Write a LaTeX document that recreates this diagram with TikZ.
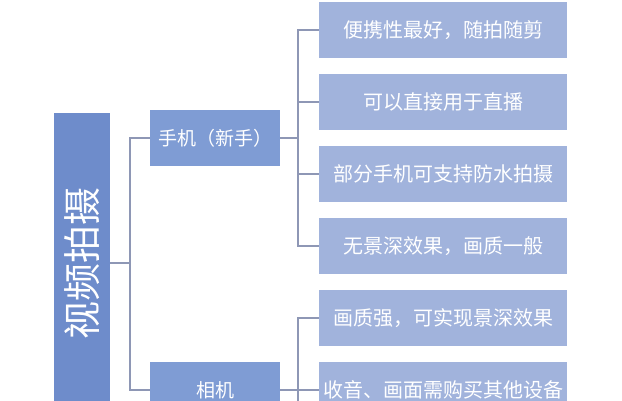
\documentclass[tikz,border=0pt]{standalone}
\usepackage{fontspec}
\setmainfont{Noto Sans CJK SC}
\definecolor{rootc}{HTML}{6E8CCB}
\definecolor{childc}{HTML}{7F9CD4}
\definecolor{leafc}{HTML}{A1B3DC}
\definecolor{linec}{HTML}{8E97B5}
\tikzset{
  rootbox/.style={fill=rootc, text=white, minimum width=300pt, minimum height=56pt, inner sep=0pt, font=\fontsize{38pt}{44pt}\selectfont},
  childbox/.style={fill=childc, text=white, minimum width=130pt, minimum height=56pt, inner sep=0pt, font=\fontsize{19pt}{23pt}\selectfont},
  leafbox/.style={fill=leafc, text=white, minimum width=248pt, minimum height=56pt, inner sep=0pt, font=\fontsize{20pt}{24pt}\selectfont},
  conn/.style={draw=linec, line width=1.5pt}
}
\begin{document}
\begin{tikzpicture}[x=1pt,y=-1pt]
\path[use as bounding box, clip] (0,0) rectangle (622,400);
\fill[white] (0,0) rectangle (622,400);
\node[rootbox, rotate=90] (root) at (82,263) {视频拍摄};
\node[childbox] (c1) at (215,138) {手机（新手）};
\node[childbox] (c2) at (215,390) {相机};
\node[leafbox] (l1) at (443,30) {便携性最好，随拍随剪};
\node[leafbox] (l2) at (443,102) {可以直接用于直播};
\node[leafbox] (l3) at (443,174) {部分手机可支持防水拍摄};
\node[leafbox] (l4) at (443,246) {无景深效果，画质一般};
\node[leafbox] (l5) at (443,318) {画质强，可实现景深效果};
\node[leafbox] (l6) at (443,390) {收音、画面需购买其他设备};
\coordinate (j0) at (130,263);
\coordinate (j1) at (298,138);
\coordinate (j2) at (298,390);
\coordinate (j2end) at (298,420);
\draw[conn] (root.south) -- (j0);
\draw[conn] (j0) |- (c1.west);
\draw[conn] (j0) |- (c2.west);
\draw[conn] (c1.east) -- (j1);
\foreach \l in {l1,l2,l3,l4} \draw[conn] (j1) |- (\l.west);
\draw[conn] (c2.east) -- (j2);
\draw[conn] (j2) |- (l5.west);
\draw[conn] (j2) -- (l6.west);
\draw[conn] (j2) -- (j2end);
\end{tikzpicture}
\end{document}
